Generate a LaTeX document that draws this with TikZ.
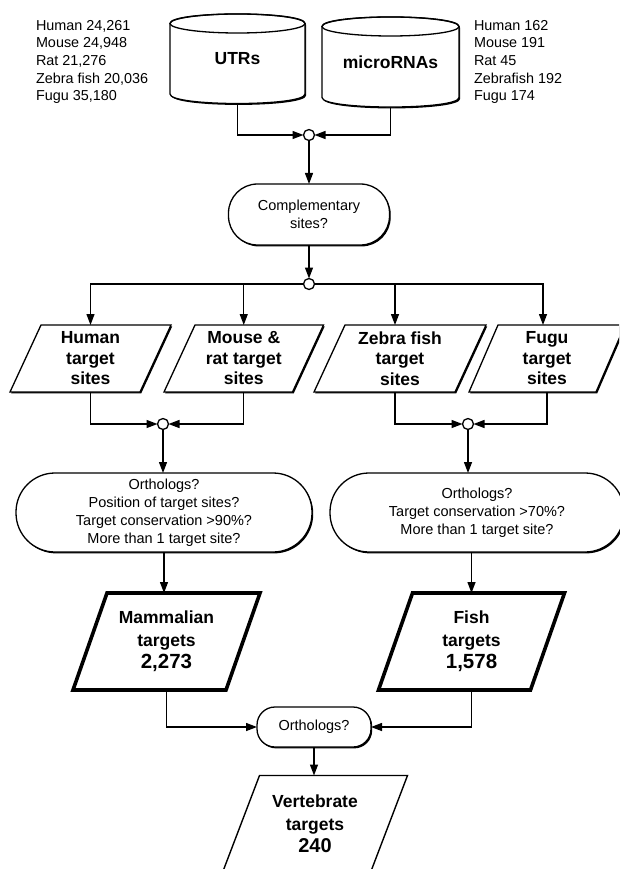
\documentclass[tikz,border=0pt]{standalone}
\usepackage{fontspec}
\setmainfont{Liberation Sans}
\usetikzlibrary{arrows.meta,calc,shadows,backgrounds}
\newcommand\paraout[3][]{\path[draw, fill=white, ln, #1] ([xshift=#3pt]#2.north west) -- ([xshift=#3pt]#2.north east) -- ([xshift=-#3pt]#2.south east) -- ([xshift=-#3pt]#2.south west) -- cycle;}
\newcommand\cylout[2]{%
 \path[draw, fill=white, ln, shd] ($(#1.north west)+(0,9.5)$) -- ($(#1.south west)+(0,-9.5)$) .. controls +(0,12.7) and +(0,12.7) .. ($(#1.south east)+(0,-9.5)$) -- ($(#1.north east)+(0,9.5)$) .. controls +(0,-12.7) and +(0,-12.7) .. ($(#1.north west)+(0,9.5)$) -- cycle;
 \draw[ln] ($(#1.north)+(0,9.5)$) ellipse [x radius=#2pt, y radius=9.5pt];}
\begin{document}
\begin{tikzpicture}[x=1pt,y=-1pt,
  every node/.style={inner sep=0pt, outer sep=0pt},
  ln/.style={line width=1.3pt},
  arr/.style={ln, -{Triangle[length=11pt,width=8pt]}},
  junc/.style={circle, draw, line width=1.3pt, fill=white, minimum size=11pt},
  sm/.style={font=\fontsize{14.4}{17.6}\selectfont},
  shd/.style={drop shadow={shadow xshift=1.2pt, shadow yshift=-1.4pt, fill=black, opacity=1}},
  qbox/.style={draw, line width=1.3pt, fill=white, align=center, font=\fontsize{14.5}{18}\selectfont, shd},
  site/.style={align=center, font=\bfseries\fontsize{17.5}{20.5}\selectfont, minimum height=67pt},
  big/.style={align=center, font=\bfseries\fontsize{17.5}{22.5}\selectfont, minimum height=97pt},
  cyl/.style={font=\bfseries\fontsize{17.5}{20}\selectfont},
]
\useasboundingbox (0,0) rectangle (619,869);

% top data
\node[sm, align=left, anchor=north west] (lt) at (36,20.3) {Human 24,261\\Mouse 24,948\\Rat 21,276\\Zebra fish 20,036\\Fugu 35,180};
\node[sm, align=left, anchor=north west] (rt) at (474,20.3) {Human 162\\Mouse 191\\Rat 45\\Zebrafish 192\\Fugu 174};

\node[cyl, minimum width=135pt, minimum height=89.5pt] (utr) at (237.5,58.75) {\raisebox{-2.5pt}{UTRs}};
\node[cyl, minimum width=137pt, minimum height=90pt] (mir) at (390.5,62) {\raisebox{-1.5pt}{microRNAs}};

\node[junc] (j1) at (309,135) {};
\node[qbox, minimum width=161pt, minimum height=61pt, rounded corners=29pt] (comp) at (309,214.5) {Complementary\\sites?};
\node[junc] (j2) at (309,284) {};

\node[site, minimum width=130pt] (hum) at (90.5,358.5) {Human\\target\\sites};
\node[site, minimum width=128.5pt] (mou) at (243.75,358.5) {Mouse \&\\rat target\\sites};
\node[site, minimum width=141pt] (zeb) at (400,358.5) {Zebra fish\\target\\sites};
\node[site, minimum width=127pt] (fug) at (547,358.5) {Fugu\\target\\sites};

\node[junc] (j3) at (163,424) {};
\node[junc] (j4) at (468,424) {};

\node[qbox, minimum width=296pt, minimum height=79pt, rounded corners=39pt] (ov1) at (164,512.5) {Orthologs?\\Position of target sites?\\Target conservation >90\%?\\More than 1 target site?};
\node[qbox, minimum width=294pt, minimum height=79pt, rounded corners=39pt] (ov2) at (477,512.5) {Orthologs?\\Target conservation >70\%?\\More than 1 target site?};

\node[big, minimum width=153pt] (mam) at (166.5,641.5) {Mammalian\\targets\\\fontsize{20.5}{24}\selectfont 2,273};
\node[big, minimum width=152pt] (fis) at (471.5,641.5) {Fish\\targets\\\fontsize{20.5}{24}\selectfont 1,578};

\node[qbox, minimum width=114pt, minimum height=40pt, rounded corners=18pt] (ort) at (314,727) {Orthologs?};
\node[big, minimum width=148pt] (ver) at (315,824) {Vertebrate\\targets\\\fontsize{20}{24}\selectfont 240};

\begin{scope}[on background layer]
  \clip (0,0) rectangle (619,869);
  \fill[white] (0,0) rectangle (619,869);
  \cylout{utr}{67.5}
  \cylout{mir}{68.5}
  \paraout[shd]{hum}{15.5}
  \paraout[shd]{mou}{15.5}
  \paraout[shd]{zeb}{15.5}
  \paraout[shd]{fug}{14.5}
  \paraout[line width=3.6pt]{mam}{17}
  \paraout[line width=3.6pt]{fis}{17}
  \paraout[line width=1.4pt]{ver}{18.5}
\end{scope}

% connectors
\draw[arr] (utr.south) |- (j1);
\draw[arr] (mir.south) |- (j1);
\draw[arr] (j1) -- (comp);
\draw[arr] (comp) -- (j2);
\draw[arr] (j2) -| (hum);
\draw[arr] (j2) -| (mou);
\draw[arr] (j2) -| ([xshift=-5pt]zeb.north);
\draw[arr] (j2) -| ([xshift=-4pt]fug.north);
\draw[arr] ([xshift=-5pt]zeb.south) |- (j4);
\draw[arr] (fug.south) |- (j4);
\draw[arr] (hum.south) |- (j3);
\draw[arr] (mou.south) |- (j3);
\draw[arr] (j3) -- (j3 |- ov1.north);
\draw[arr] (j4) -- (j4 |- ov2.north);
\draw[arr] (ov1.south) -- (ov1.south |- mam.north);
\draw[arr] (fis.north |- ov2.south) -- (fis.north);
\draw[arr] (mam.south) |- (ort);
\draw[arr] (fis.south) |- (ort);
\draw[arr] (ort.south) -- (ort.south |- ver.north);
\end{tikzpicture}
\end{document}
